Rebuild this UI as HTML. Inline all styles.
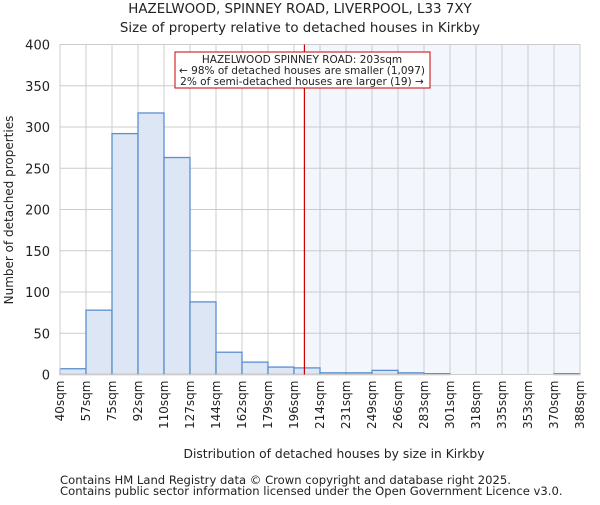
<!DOCTYPE html>
<html><head><meta charset="utf-8"><style>
body{margin:0;background:#fff;}
svg text{font-family:"DejaVu Sans","Liberation Sans",sans-serif;fill:#222;}
</style></head><body>
<svg id="chart" width="600" height="500" viewBox="0 0 600 500" xmlns="http://www.w3.org/2000/svg">
<text x="300" y="13" font-size="13.4" text-anchor="middle">HAZELWOOD, SPINNEY ROAD, LIVERPOOL, L33 7XY</text>
<text x="300" y="32" font-size="13.4" text-anchor="middle">Size of property relative to detached houses in Kirkby</text>
<g id="plot"></g>
<text x="334" y="458" font-size="12.3" text-anchor="middle">Distribution of detached houses by size in Kirkby</text>
<text transform="translate(13,210) rotate(-90)" font-size="12" text-anchor="middle">Number of detached properties</text>
<text x="60" y="484" font-size="11.6">Contains HM Land Registry data © Crown copyright and database right 2025.</text>
<text x="60" y="495" font-size="11.6">Contains public sector information licensed under the Open Government Licence v3.0.</text>
</svg>
<script>
const categories=["40sqm","57sqm","75sqm","92sqm","110sqm","127sqm","144sqm","162sqm","179sqm","196sqm","214sqm","231sqm","249sqm","266sqm","283sqm","301sqm","318sqm","335sqm","353sqm","370sqm","388sqm"];
const counts=[7,78,292,317,263,88,27,15,9,8,2,2,5,2,1,0,0,0,0,1];
const yTicks=[0,50,100,150,200,250,300,350,400];
const propertyBinPosition=9.4;
const L=60,R=580,T=44.5,B=374.5,NS="http://www.w3.org/2000/svg";
const bw=(R-L)/counts.length;
const xs=i=>L+i*bw, ys=v=>B-(v/400)*(B-T);
const g=document.getElementById('plot');
function mk(t,a){const e=document.createElementNS(NS,t);for(const k in a)e.setAttribute(k,a[k]);g.appendChild(e);return e;}
const hx=xs(propertyBinPosition);
let e=mk('rect',{x:hx,y:T,width:R-hx,height:B-T,fill:'#f3f6fd'});


yTicks.forEach(v=>{let l=mk('line',{x1:L,x2:R,y1:ys(v),y2:ys(v),stroke:'#ccc'});


let t=mk('text',{x:L-10,y:ys(v)+5,'font-size':13,'text-anchor':'end'});t.textContent=v;

});
categories.forEach((c,i)=>{let l=mk('line',{x1:xs(i),x2:xs(i),y1:T,y2:B,stroke:'#ccc'});


let t=mk('text',{transform:`translate(${xs(i)+4},${B+6}) rotate(-90)`,'font-size':12,'text-anchor':'end'});t.textContent=c;

});
counts.forEach((v,i)=>{if(v<=0)return;let r=mk('rect',{x:xs(i),y:ys(v),width:bw,height:B-ys(v),fill:'#dce6f4',stroke:'#5b8fd2','stroke-width':1.3});

});
let ax=mk('rect',{x:L,y:T,width:R-L,height:B-T,fill:'none',stroke:'#ccc'});


let rl=mk('line',{x1:hx,x2:hx,y1:T,y2:B,stroke:'#cc0000','stroke-width':1.2});


let box=mk('rect',{x:175,y:52,width:255,height:36,fill:'#fff',stroke:'#cc0000'});


["HAZELWOOD SPINNEY ROAD: 203sqm","← 98% of detached houses are smaller (1,097)","2% of semi-detached houses are larger (19) →"].forEach((s,i)=>{
let t=mk('text',{x:302,y:63+i*11,'font-size':10.5,'text-anchor':'middle'});t.textContent=s;

});
</script>
</body></html>
